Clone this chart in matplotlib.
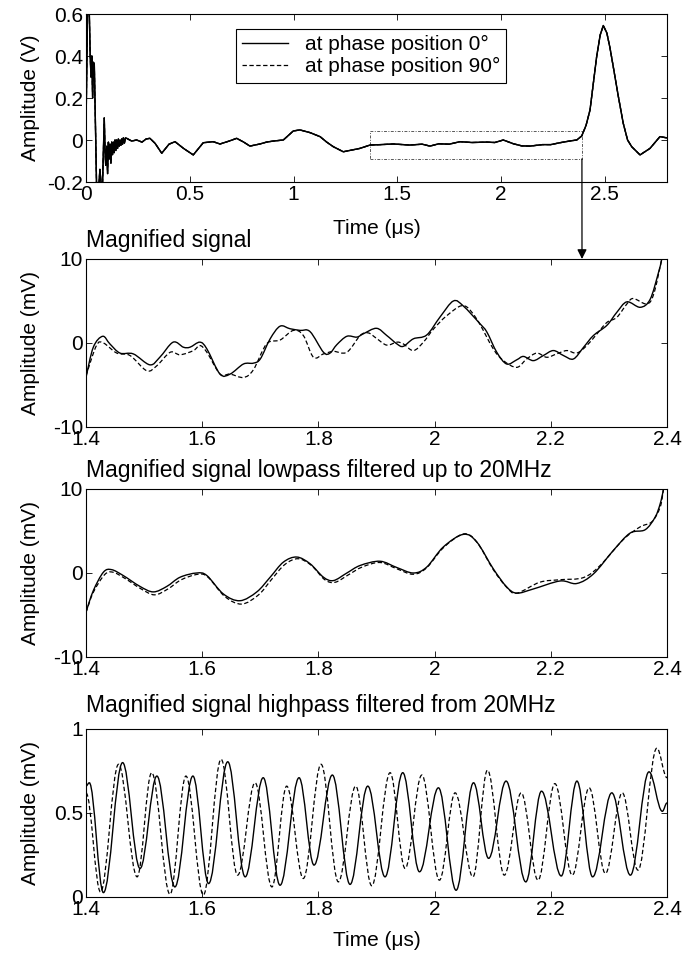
import matplotlib
matplotlib.use("Agg")
import matplotlib.pyplot as plt
from matplotlib.patches import Rectangle, ConnectionPatch, PathPatch
from matplotlib.path import Path

plt.rcParams['font.family'] = ['Liberation Sans', 'DejaVu Sans']
plt.rcParams['font.size'] = 15

# --- full signal (top panel), both phases overlap here ---
t_top = [0.000, 0.008, 0.016, 0.020, 0.024, 0.028, 0.032, 0.036, 0.040, 0.045,
         0.051, 0.060, 0.067, 0.074, 0.080, 0.088, 0.092, 0.095, 0.100, 0.104,
         0.108, 0.112, 0.116, 0.120, 0.124, 0.128, 0.132, 0.136, 0.140, 0.144,
         0.148, 0.152, 0.156, 0.160, 0.164, 0.168, 0.172, 0.176, 0.180, 0.185,
         0.190, 0.196, 0.220, 0.244, 0.270, 0.290, 0.308, 0.333, 0.365, 0.400,
         0.429, 0.470, 0.517, 0.565, 0.613, 0.646, 0.690, 0.726, 0.760, 0.790,
         0.838, 0.870, 0.903, 0.951, 0.999, 1.031, 1.080, 1.128, 1.160, 1.192,
         1.240, 1.280, 1.320, 1.369, 1.420, 1.481, 1.560, 1.620, 1.658, 1.700,
         1.750, 1.802, 1.860, 1.931, 1.970, 2.011, 2.060, 2.100, 2.140, 2.200,
         2.240, 2.284, 2.330, 2.365, 2.389, 2.410, 2.429, 2.445, 2.461, 2.478,
         2.493, 2.510, 2.525, 2.541, 2.565, 2.589, 2.610, 2.630, 2.670, 2.718,
         2.766, 2.800]
v_top = [0.05, 0.68, 0.60, 0.41, 0.30, 0.40, 0.20, 0.37, 0.36, 0.10,
         -0.22, -0.25, -0.14, -0.22, -0.20, 0.105, -0.06, -0.12, -0.03, -0.16,
         -0.01, -0.09, -0.02, -0.11, -0.01, -0.07, -0.01, -0.06, 0.0, -0.05,
         0.0, -0.04, 0.005, -0.03, 0.0, -0.025, 0.005, -0.02, 0.01, -0.015,
         0.01, 0.008, -0.005, 0.0, -0.01, 0.005, 0.008, -0.016, -0.063, -0.02,
         -0.008, -0.04, -0.071, -0.013, -0.008, -0.019, -0.005, 0.008, -0.01, -0.029,
         -0.019, -0.01, -0.005, 0.0, 0.043, 0.048, 0.035, 0.016, -0.01, -0.032,
         -0.056, -0.048, -0.04, -0.024, -0.022, -0.019, -0.024, -0.02, -0.029, -0.018,
         -0.02, -0.008, -0.012, -0.01, -0.012, 0.0, -0.018, -0.028, -0.029, -0.022,
         -0.022, -0.013, -0.005, 0.0, 0.019, 0.07, 0.143, 0.27, 0.397, 0.50,
         0.545, 0.51, 0.44, 0.349, 0.21, 0.08, 0.0, -0.032, -0.071, -0.04,
         0.016, 0.01]

# --- magnified signal (mV) ---
t2_0 = [1.400, 1.4126, 1.4287, 1.441, 1.4585, 1.4815, 1.510, 1.527, 1.550, 1.5676,
        1.579, 1.596, 1.608, 1.6307, 1.648, 1.671, 1.688, 1.700, 1.717, 1.734,
        1.751, 1.7685, 1.7857, 1.8087, 1.820, 1.8317, 1.849, 1.866, 1.8775, 1.900,
        1.9175, 1.935, 1.946, 1.9635, 1.9864, 2.0094, 2.0323, 2.0495, 2.078, 2.090,
        2.107, 2.124, 2.1414, 2.153, 2.170, 2.187, 2.2045, 2.222, 2.239, 2.2565,
        2.2735, 2.2965, 2.3136, 2.331, 2.354, 2.371, 2.3854, 2.391, 2.400]
v2_0 = [-4.1, -0.5, 0.8, -0.1, -1.2, -1.3, -2.6, -1.7, 0.1, -0.5,
        -0.5, 0.1, -0.7, -3.7, -3.7, -2.5, -2.4, -1.9, 0.5, 2.0,
        1.7, 1.5, 1.35, -1.1, -1.2, -0.2, 0.8, 0.7, 1.1, 1.75,
        0.9, -0.1, -0.4, 0.5, 0.95, 3.1, 5.0, 4.4, 2.3, 1.3,
        -1.1, -2.5, -2.0, -1.6, -2.1, -1.5, -0.9, -1.5, -1.9, -0.5,
        0.9, 2.1, 3.65, 4.9, 4.25, 5.2, 8.4, 10.0, 13.0]
t2_90 = [1.400, 1.418, 1.430, 1.453, 1.476, 1.5045, 1.522, 1.545, 1.562, 1.585,
         1.596, 1.608, 1.6307, 1.648, 1.671, 1.688, 1.711, 1.734, 1.757, 1.774,
         1.7915, 1.8087, 1.826, 1.849, 1.872, 1.886, 1.900, 1.9175, 1.935, 1.946,
         1.9635, 1.9807, 1.998, 2.021, 2.0495, 2.0725, 2.101, 2.1185, 2.1414, 2.1586,
         2.176, 2.193, 2.210, 2.2275, 2.2447, 2.262, 2.279, 2.2965, 2.3136, 2.331,
         2.342, 2.365, 2.377, 2.391, 2.400]
v2_90 = [-3.9, -0.3, 0.0, -1.2, -1.5, -3.3, -2.7, -1.1, -1.4, -0.9,
         -0.3, -1.1, -3.7, -3.7, -4.1, -3.2, -0.1, 0.35, 1.5, 0.9,
         -1.7, -1.3, -1.0, -1.1, 0.9, 1.2, 0.55, -0.25, 0.1, -0.1,
         -0.9, 0.1, 1.65, 3.25, 4.45, 2.85, -0.7, -2.1, -2.9, -1.9,
         -1.2, -1.7, -1.3, -0.9, -1.2, -0.3, 1.05, 2.45, 3.05, 4.65,
         5.3, 4.65, 5.8, 10.0, 13.0]

# --- lowpass filtered ---
t3_0 = [1.400, 1.4126, 1.430, 1.444, 1.464, 1.493, 1.516, 1.539, 1.562, 1.5906,
        1.608, 1.6365, 1.665, 1.694, 1.717, 1.7398, 1.7628, 1.7857, 1.8087, 1.826,
        1.849, 1.872, 1.906, 1.935, 1.9635, 1.9864, 2.015, 2.0495, 2.0725, 2.101,
        2.124, 2.1414, 2.170, 2.216, 2.2447, 2.2735, 2.3078, 2.3365, 2.3624, 2.3796,
        2.3883, 2.394, 2.400]
v3_0 = [-4.65, -2.1, 0.1, 0.4, -0.3, -1.6, -2.25, -1.6, -0.5, 0.0,
        -0.3, -2.5, -3.3, -2.25, -0.5, 1.3, 1.9, 1.1, -0.5, -0.9,
        0.0, 0.9, 1.4, 0.65, 0.0, 0.7, 3.1, 4.6, 3.7, 0.5,
        -1.65, -2.4, -1.9, -0.95, -1.25, -0.1, 2.7, 4.75, 5.15, 6.65,
        8.25, 10.0, 12.5]
t3_90 = [1.400, 1.4126, 1.432, 1.446, 1.466, 1.495, 1.518, 1.541, 1.564, 1.593,
         1.610, 1.639, 1.668, 1.697, 1.719, 1.742, 1.765, 1.788, 1.811, 1.829,
         1.852, 1.875, 1.906, 1.935, 1.963, 1.986, 2.015, 2.0495, 2.0725, 2.101,
         2.124, 2.1414, 2.181, 2.216, 2.256, 2.285, 2.325, 2.354, 2.374, 2.3883,
         2.394, 2.400]
v3_90 = [-4.7, -2.3, -0.2, 0.1, -0.6, -1.9, -2.6, -1.9, -0.8, -0.15,
         -0.5, -2.8, -3.7, -2.6, -0.8, 1.0, 1.7, 0.9, -0.8, -1.1,
         -0.2, 0.7, 1.25, 0.5, -0.15, 0.6, 3.0, 4.65, 3.7, 0.4,
         -1.7, -2.4, -1.1, -0.8, -0.55, 0.9, 4.0, 5.5, 6.1, 7.85,
         10.0, 12.5]

# --- highpass filtered (peaks and troughs) ---
t4_0 = [1.400, 1.4057, 1.430, 1.463, 1.493, 1.522, 1.553, 1.584, 1.611, 1.644,
        1.674, 1.705, 1.734, 1.7667, 1.7925, 1.824, 1.8545, 1.885, 1.9147, 1.9452,
        1.974, 2.0066, 2.037, 2.067, 2.093, 2.123, 2.157, 2.184, 2.218, 2.245,
        2.272, 2.305, 2.337, 2.369, 2.392, 2.400]
v4_0 = [0.66, 0.68, 0.026, 0.80, 0.17, 0.72, 0.06, 0.72, 0.08, 0.805,
        0.12, 0.71, 0.07, 0.71, 0.19, 0.726, 0.075, 0.66, 0.12, 0.74,
        0.15, 0.65, 0.04, 0.68, 0.23, 0.69, 0.09, 0.63, 0.125, 0.69,
        0.12, 0.62, 0.13, 0.745, 0.51, 0.56]
t4_90 = [1.400, 1.425, 1.456, 1.488, 1.513, 1.5446, 1.572, 1.602, 1.6325, 1.661,
         1.691, 1.720, 1.7454, 1.774, 1.8046, 1.8344, 1.8642, 1.8918, 1.9234, 1.9492,
         1.978, 2.0083, 2.0353, 2.066, 2.091, 2.120, 2.149, 2.178, 2.207, 2.237,
         2.266, 2.294, 2.323, 2.350, 2.3825, 2.400]
v4_90 = [0.62, 0.03, 0.79, 0.12, 0.74, 0.016, 0.72, 0.012, 0.82, 0.13,
         0.68, 0.06, 0.66, 0.11, 0.79, 0.09, 0.66, 0.067, 0.74, 0.17,
         0.726, 0.10, 0.62, 0.12, 0.755, 0.13, 0.62, 0.10, 0.675, 0.13,
         0.65, 0.14, 0.62, 0.16, 0.886, 0.71]

legend_labels = ['at phase position 0°', 'at phase position 90°']
titles = ['Magnified signal',
          'Magnified signal lowpass filtered up to 20MHz',
          'Magnified signal highpass filtered from 20MHz']


def smooth_curve(ax, t, v, extrema=False, **kw):
    # draw the read points as one smooth bezier path (no extra data points)
    verts = [(t[0], v[0])]
    codes = [Path.MOVETO]
    n = len(t)
    for i in range(n - 1):
        x0, y0, x1, y1 = t[i], v[i], t[i + 1], v[i + 1]
        if extrema:
            k = 0.363 * (x1 - x0)
            c1 = (x0 + k, y0)
            c2 = (x1 - k, y1)
        else:
            xa, ya = (t[i - 1], v[i - 1]) if i > 0 else (x0, y0)
            xb, yb = (t[i + 2], v[i + 2]) if i + 2 < n else (x1, y1)
            c1 = (x0 + (x1 - xa) / 6, y0 + (y1 - ya) / 6)
            c2 = (x1 - (xb - x0) / 6, y1 - (yb - y0) / 6)
        verts += [c1, c2, (x1, y1)]
        codes += [Path.CURVE4] * 3
    ax.add_patch(PathPatch(Path(verts, codes), fill=False, **kw))


fig = plt.figure(figsize=(6.98, 9.58), dpi=100)
L, W, H = 86/698, 581/698, 168/958
ax1 = fig.add_axes([L, 1 - 182/958, W, H])
ax2 = fig.add_axes([L, 1 - 427/958, W, H])
ax3 = fig.add_axes([L, 1 - 657/958, W, H])
ax4 = fig.add_axes([L, 1 - 897/958, W, H])

dash = (0, (3.5, 2))
solid_kw = dict(color='k', lw=1.0)
dash_kw = dict(color='k', lw=0.9, ls=dash)
solid_p = dict(ec='k', lw=1.0)
dash_p = dict(ec='k', lw=0.9, ls=dash)

# top panel
l1, = ax1.plot(t_top, v_top, **solid_kw)
l2, = ax1.plot(t_top, v_top, **dash_kw)
ax1.plot(t_top, v_top, **solid_kw)
ax1.set_xlim(0, 2.8)
ax1.set_ylim(-0.2, 0.6)
ax1.set_xticks([0, 0.5, 1, 1.5, 2, 2.5])
ax1.set_xticklabels(['0', '0.5', '1', '1.5', '2', '2.5'])
ax1.set_yticks([-0.2, 0, 0.2, 0.4, 0.6])
ax1.set_yticklabels(['-0.2', '0', '0.2', '0.4', '0.6'])
ax1.set_ylabel('Amplitude (V)')
ax1.set_xlabel('Time (μs)')
ax1.legend([l1, l2], legend_labels, loc='upper left',
           bbox_to_anchor=(0.258, 0.911), borderaxespad=0, fancybox=False,
           edgecolor='k', framealpha=1, handlelength=2.2, fontsize=15,
           borderpad=0.3, labelspacing=0.15)
ax1.legend_.get_frame().set_linewidth(0.8)

# zoom box and arrow
ax1.add_patch(Rectangle((1.37, -0.09), 1.02, 0.133, fill=False,
                        ec='0.35', lw=0.7, ls=(0, (3, 1.5, 1, 1.5))))
con = ConnectionPatch(xyA=(2.39, -0.09), coordsA=ax1.transData,
                      xyB=(2.2537, 10), coordsB=ax2.transData,
                      arrowstyle='-|>', mutation_scale=14, color='k', lw=0.9)
fig.add_artist(con)

smooth_curve(ax2, t2_90, v2_90, **dash_p)
smooth_curve(ax2, t2_0, v2_0, **solid_p)
smooth_curve(ax3, t3_90, v3_90, **dash_p)
smooth_curve(ax3, t3_0, v3_0, **solid_p)
smooth_curve(ax4, t4_90, v4_90, extrema=True, **dash_p)
smooth_curve(ax4, t4_0, v4_0, extrema=True, **solid_p)

pads = [9, 8.5, 12]
for ax, title, pad in zip([ax2, ax3, ax4], titles, pads):
    ax.set_xlim(1.4, 2.4)
    ax.set_xticks([1.4, 1.6, 1.8, 2.0, 2.2, 2.4])
    ax.set_xticklabels(['1.4', '1.6', '1.8', '2', '2.2', '2.4'])
    ax.set_ylabel('Amplitude (mV)')
    ax.set_title(title, loc='left', pad=pad, fontsize=16.5)

for ax in [ax2, ax3]:
    ax.set_ylim(-10, 10)
    ax.set_yticks([-10, 0, 10])
    ax.set_yticklabels(['-10', '0', '10'])
ax4.set_ylim(0, 1)
ax4.set_yticks([0, 0.5, 1])
ax4.set_yticklabels(['0', '0.5', '1'])
ax4.set_xlabel('Time (μs)')

for ax in [ax1, ax2, ax3, ax4]:
    ax.tick_params(direction='in', top=True, right=True, length=4, width=0.6,
                   labelsize=15, pad=2)
    for s in ax.spines.values():
        s.set_linewidth(0.8)
    ax.yaxis.set_label_coords(-0.08, 0.5)

ax1.xaxis.set_label_coords(0.5, -0.22)
ax4.xaxis.set_label_coords(0.5, -0.20)

fig.savefig('out.png', dpi=100)
